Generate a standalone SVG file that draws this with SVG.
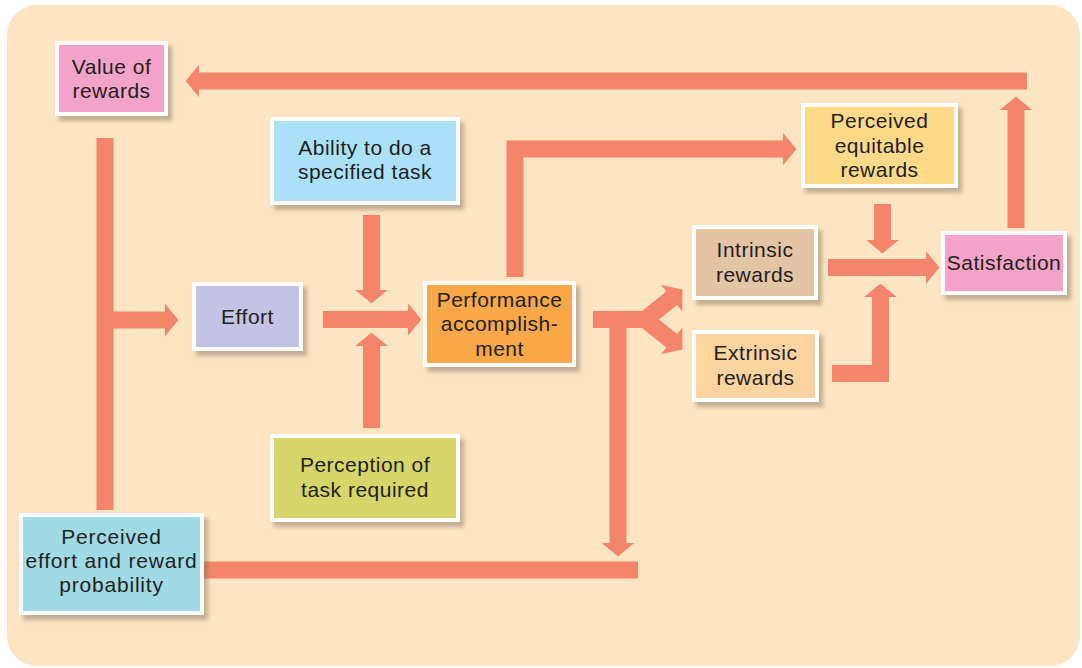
<svg xmlns="http://www.w3.org/2000/svg" width="1082" height="668" viewBox="0 0 1082 668">
<defs>
<style>
.n{stroke:#ffffff;stroke-width:4;filter:url(#sh)}
.t{font-family:"Liberation Sans",Arial,sans-serif;font-size:21px;fill:#231f20;text-anchor:middle;letter-spacing:0.5px}
.w{letter-spacing:0.8px}
.c{fill:none;stroke:#f4856a;stroke-width:17;stroke-linejoin:miter;stroke-linecap:butt}
.a{marker-end:url(#ah)}
</style>
<filter id="sh" x="-10%" y="-10%" width="130%" height="140%">
<feDropShadow dx="4" dy="5" stdDeviation="2" flood-color="#7d6c58" flood-opacity="0.45"/>
</filter>
<marker id="ah" viewBox="0 0 14 34" refX="0.5" refY="17" markerUnits="strokeWidth" markerWidth="0.82" markerHeight="2" orient="auto">
<path d="M0,0 L14,17 L0,34 z" fill="#f4856a"/>
</marker>
</defs>
<rect width="1082" height="668" fill="#ffffff"/>
<rect x="7" y="5" width="1073" height="661" rx="30" fill="#fde4c2"/>
<g id="connectors">
<path class="c a" d="M1016,228 L1016,110"/>
<path class="c a" d="M1027,81 L199,81"/>
<path class="c" d="M105,138 L105,510"/>
<path class="c a" d="M105,320 L165,320"/>
<path class="c a" d="M371.5,215 L371.5,290"/>
<path class="c a" d="M371.5,428 L371.5,346"/>
<path class="c a" d="M323,319.5 L408,319.5"/>
<path class="c a" d="M515,277 L515,149 L783,149"/>
<path class="c" d="M593,319.5 L648,319.5"/>
<path class="c a" d="M618,311 L618,543"/>
<path class="c a" d="M642,322 L672,298"/>
<path class="c a" d="M642,317 L672,341"/>
<path class="c" d="M204,570 L638,570"/>
<path class="c a" d="M882.5,204 L882.5,240"/>
<path class="c a" d="M828,267.5 L926,267.5"/>
<path class="c a" d="M832,373.5 L880.5,373.5 L880.5,297"/>
</g>
<g id="value-of-rewards">
<rect class="n" x="57" y="43" width="109" height="71" fill="#f4a3c8"/>
<text class="t" x="111.5" y="74">Value of</text>
<text class="t" x="111.5" y="98">rewards</text>
</g>
<g id="ability">
<rect class="n" x="272" y="119" width="186" height="84" fill="#abe1f8"/>
<text class="t" x="365" y="155">Ability to do a</text>
<text class="t" x="365" y="179">specified task</text>
</g>
<g id="effort">
<rect class="n" x="194" y="284" width="107" height="65" fill="#c4c3e3"/>
<text class="t" x="247.5" y="324">Effort</text>
</g>
<g id="performance">
<rect class="n" x="425" y="283" width="149" height="82" fill="#f9a84a"/>
<text class="t" x="499.5" y="307">Performance</text>
<text class="t" x="499.5" y="331">accomplish-</text>
<text class="t" x="499.5" y="356">ment</text>
</g>
<g id="perception">
<rect class="n" x="272" y="436" width="186" height="84" fill="#d6d56a"/>
<text class="t" x="365" y="472">Perception of</text>
<text class="t" x="365" y="497">task required</text>
</g>
<g id="perceived-effort">
<rect class="n" x="21" y="515" width="181" height="98" fill="#9fdae5"/>
<text class="t w" x="111.5" y="544">Perceived</text>
<text class="t w" x="111.5" y="568">effort and reward</text>
<text class="t w" x="111.5" y="592">probability</text>
</g>
<g id="perceived-equitable">
<rect class="n" x="803" y="105" width="153" height="81" fill="#fed98a"/>
<text class="t" x="879.5" y="128">Perceived</text>
<text class="t" x="879.5" y="153">equitable</text>
<text class="t" x="879.5" y="177">rewards</text>
</g>
<g id="intrinsic">
<rect class="n" x="694" y="227" width="122" height="71" fill="#e3c4a4"/>
<text class="t" x="755" y="257">Intrinsic</text>
<text class="t" x="755" y="282">rewards</text>
</g>
<g id="extrinsic">
<rect class="n" x="694" y="332" width="123" height="68" fill="#fdd3a0"/>
<text class="t" x="755.5" y="360">Extrinsic</text>
<text class="t" x="755.5" y="385">rewards</text>
</g>
<g id="satisfaction">
<rect class="n" x="943" y="233" width="122" height="60" fill="#f4a3c8"/>
<text class="t" x="1004" y="270">Satisfaction</text>
</g>
</svg>
